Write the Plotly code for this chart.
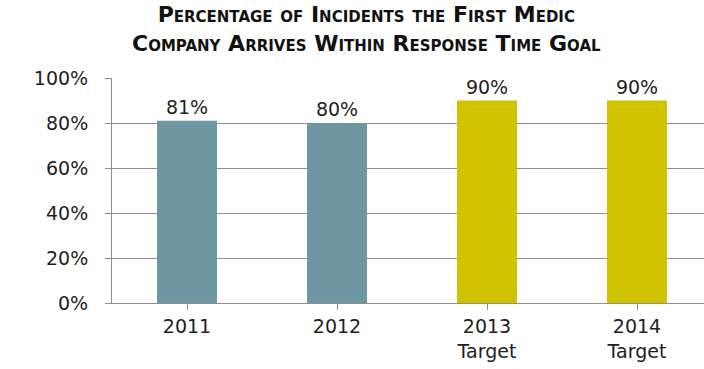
import plotly.graph_objects as go

categories = ["2011", "2012", "2013<br>Target", "2014<br>Target"]
values = [81, 80, 90, 90]
labels = ["81%", "80%", "90%", "90%"]
bar_colors = ["#6F97A3", "#6F97A3", "#CFC300", "#CFC300"]
y_ticks = [0, 20, 40, 60, 80, 100]
y_tick_text = ["0%", "20%", "40%", "60%", "80%", "100%"]
title_text = "Percentage of Incidents the First Medic<br>Company Arrives Within Response Time Goal"

FONT = "DejaVu Sans"
GRID = "#8E8E8E"
TXT = "#1E1E1E"

fig = go.Figure(
    go.Bar(
        x=list(range(len(categories))),
        y=values,
        text=labels,
        textposition="outside",
        textfont=dict(family=FONT, size=19, color=TXT),
        marker=dict(color=bar_colors, line=dict(width=0)),
        width=0.4,
        cliponaxis=False,
    )
)

fig.update_layout(
    width=704,
    height=369,
    margin=dict(l=112, r=0, t=78, b=66),
    paper_bgcolor="white",
    plot_bgcolor="white",
    showlegend=False,
    annotations=[
        dict(
            text="<b>" + title_text + "</b>",
            x=(366 - 112) / 592,
            y=1 + (78 - 29) / 225,
            xref="paper",
            yref="paper",
            xanchor="center",
            yanchor="middle",
            showarrow=False,
            align="center",
            font=dict(family=FONT, size=22, color="#111111", variant="small-caps"),
        )
    ],
)

fig.update_xaxes(
    range=[-0.5, -0.5 + 592 / 150],
    tickmode="array",
    tickvals=list(range(len(categories))),
    ticktext=categories,
    tickson="boundaries",
    ticks="outside",
    ticklen=6,
    tickcolor=GRID,
    showline=True,
    linecolor=GRID,
    linewidth=1,
    showgrid=False,
    tickfont=dict(family=FONT, size=19, color=TXT),
    fixedrange=True,
)

fig.update_yaxes(
    range=[0, 100],
    tickmode="array",
    tickvals=y_ticks,
    ticktext=y_tick_text,
    ticks="outside",
    ticklen=6,
    tickcolor=GRID,
    showline=True,
    linecolor=GRID,
    linewidth=1,
    showgrid=True,
    gridcolor=GRID,
    gridwidth=1,
    zeroline=False,
    ticklabelstandoff=13,
    tickfont=dict(family=FONT, size=19, color=TXT),
    fixedrange=True,
)

fig.write_html("out.html")
